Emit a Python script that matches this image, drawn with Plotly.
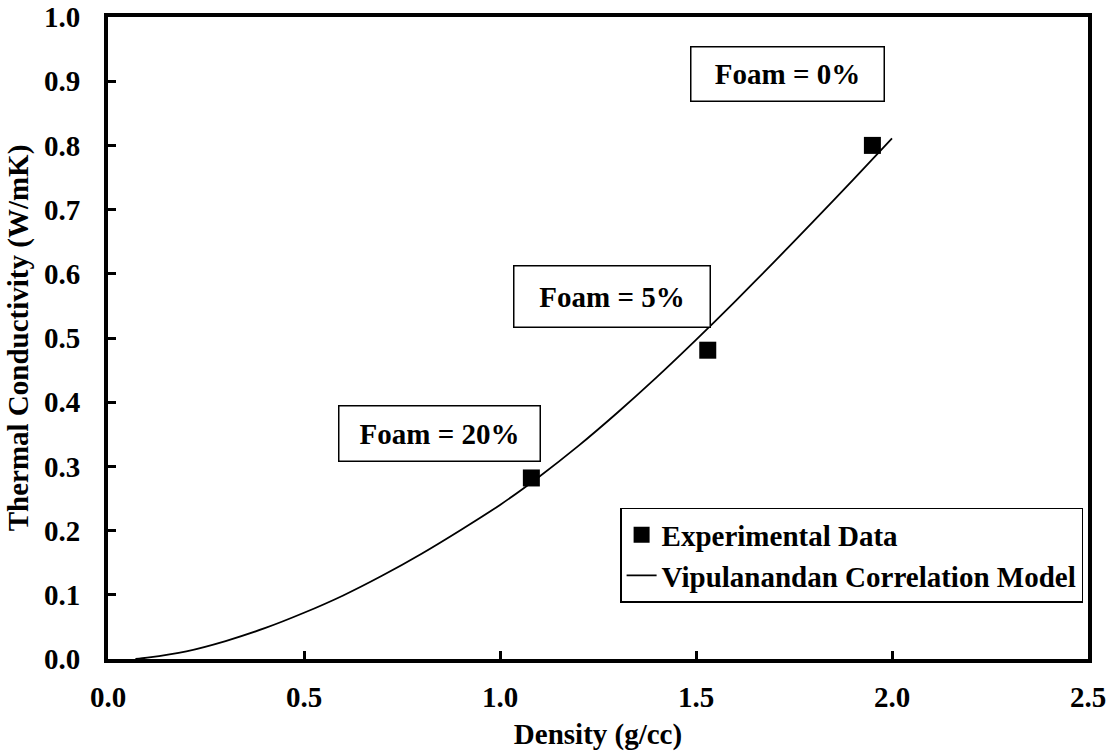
import plotly.graph_objects as go

# Experimental data
density_exp = [1.08, 1.53, 1.95]
conductivity_exp = [0.282, 0.481, 0.800]

# Vipulanandan correlation model curve
density_model = [0.07, 0.10, 0.20, 0.30, 0.40, 0.50, 0.60, 0.70, 0.80, 0.90,
                 1.00, 1.10, 1.20, 1.30, 1.40, 1.50, 1.60, 1.70, 1.80, 1.90, 2.00]
conductivity_model = [0.000, 0.002, 0.012, 0.028, 0.048, 0.072, 0.099, 0.130, 0.164, 0.201,
                      0.240, 0.284, 0.332, 0.384, 0.439, 0.497, 0.557, 0.619, 0.682, 0.746, 0.811]

# Annotation labels
label_texts = ["Foam = 0%", "Foam = 5%", "Foam = 20%"]
label_x = [1.733, 1.286, 0.846]
label_y = [0.912, 0.565, 0.352]
label_w = [192, 195, 200]
label_h = [53, 60, 54]

x_ticks = [0.0, 0.5, 1.0, 1.5, 2.0, 2.5]
y_ticks = [0.0, 0.1, 0.2, 0.3, 0.4, 0.5, 0.6, 0.7, 0.8, 0.9, 1.0]

FONT = "Liberation Serif, Times New Roman, serif"
FS = 29

fig = go.Figure()
fig.add_trace(go.Scatter(
    x=density_exp, y=conductivity_exp, mode="markers",
    name="Experimental Data",
    marker=dict(symbol="square", size=17, color="black"),
))
fig.add_trace(go.Scatter(
    x=density_model, y=conductivity_model, mode="lines",
    name="Vipulanandan Correlation Model",
    line=dict(color="black", width=1.8, shape="spline", smoothing=0.8),
))

for t, x, y, w, h in zip(label_texts, label_x, label_y, label_w, label_h):
    fig.add_annotation(
        x=x, y=y, xref="x", yref="y", text=t, showarrow=False,
        width=w, height=h, align="center", valign="middle",
        bordercolor="black", borderwidth=1.5, borderpad=0, bgcolor="white",
        font=dict(family=FONT, size=FS, color="black", weight="bold"),
    )

axis_common = dict(
    showline=True, linecolor="black", linewidth=4, mirror=True,
    ticks="inside", ticklen=8, tickwidth=3, tickcolor="black",
    showgrid=False, zeroline=False, automargin=False,
    tickfont=dict(family=FONT, size=FS, color="black", weight="bold"),
    tickformat=".1f",
)

fig.update_xaxes(
    range=[0, 2.5], tickvals=x_ticks, ticklabelstandoff=9,
    title=dict(text="Density (g/cc)", standoff=18,
               font=dict(family=FONT, size=FS, color="black", weight="bold")),
    **axis_common,
)
fig.update_yaxes(
    range=[0, 1.0], tickvals=y_ticks, ticklabelstandoff=18,
    title=dict(text="Thermal Conductivity (W/mK)", standoff=8,
               font=dict(family=FONT, size=FS, color="black", weight="bold")),
    **axis_common,
)

fig.update_layout(
    width=1116, height=751,
    margin=dict(l=108, r=28, t=17, b=92, autoexpand=False),
    paper_bgcolor="white", plot_bgcolor="white",
    font=dict(family=FONT, size=FS, color="black", weight="bold"),
    showlegend=True,
    legend=dict(
        x=0.995, y=0.0875, xanchor="right", yanchor="bottom",
        bgcolor="white", bordercolor="black", borderwidth=1.5,
        font=dict(family=FONT, size=FS, color="black", weight="bold"),
        tracegroupgap=0, itemwidth=30,
    ),
)

fig.write_html("out.html")
